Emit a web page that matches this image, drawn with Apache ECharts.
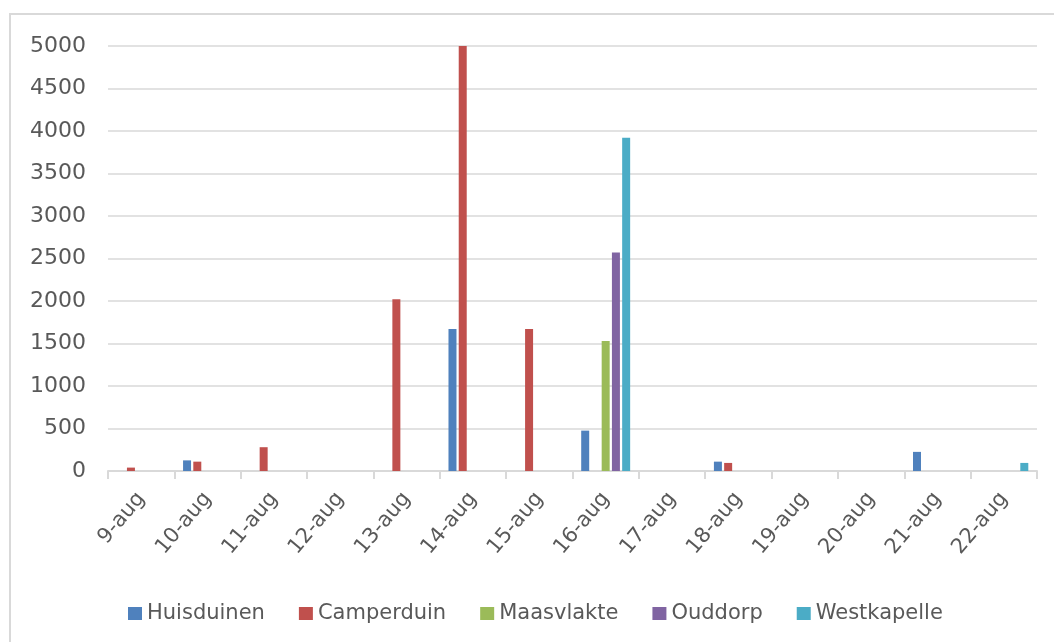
<!DOCTYPE html>
<html>
<head>
<meta charset="utf-8">
<title>Aantallen per dag</title>
<script src="https://cdn.jsdelivr.net/npm/echarts@6/dist/echarts.min.js"></script>
<style>
  html, body { margin: 0; padding: 0; background: #fff; }
  #chart { width: 1054px; height: 642px; }
</style>
</head>
<body>
<div id="chart"></div>
<script>
// categorieen (dagen)
const days = ['9-aug', '10-aug', '11-aug', '12-aug', '13-aug', '14-aug', '15-aug',
  '16-aug', '17-aug', '18-aug', '19-aug', '20-aug', '21-aug', '22-aug']

// waarden per locatie
const huisduinen  = [null, 125, null, null, null, 1670, null, 475, null, 110, null, null, 225, null]
const camperduin  = [40, 110, 280, null, 2020, 5000, 1670, null, null, 95, null, null, null, null]
const maasvlakte  = [null, null, null, null, null, null, null, 1530, null, null, null, null, null, null]
const ouddorp     = [null, null, null, null, null, null, null, 2570, null, null, null, null, null, null]
const westkapelle = [null, null, null, null, null, null, null, 3920, null, null, null, null, null, 95]

const seriesNames = ['Huisduinen', 'Camperduin', 'Maasvlakte', 'Ouddorp', 'Westkapelle']
const seriesData = [huisduinen, camperduin, maasvlakte, ouddorp, westkapelle]
const colors = ['#4f81bd', '#c0504d', '#9bbb59', '#8064a2', '#4bacc6']

const chart = echarts.init(document.getElementById('chart'))
const font = 'DejaVu Sans'

chart.setOption({
  animation: false,
  color: colors,
  textStyle: { fontFamily: font },
  graphic: [{
    type: 'rect',
    shape: { x: 10, y: 14, width: 1100, height: 700 },
    style: { fill: null, stroke: '#d9d9d9', lineWidth: 2 },
    silent: true
  }],
  grid: { left: 108, right: 17, top: 46, bottom: 171 },
  legend: {
    left: 123,
    top: 598,
    icon: 'rect',
    itemWidth: 14,
    itemHeight: 13,
    itemGap: 34,
    textStyle: { color: '#595959', fontSize: 21, fontFamily: font },
    data: seriesNames
  },
  xAxis: {
    type: 'category',
    data: days,
    axisLine: { lineStyle: { color: '#d9d9d9', width: 2 } },
    axisTick: { show: true, length: 8, lineStyle: { color: '#d9d9d9', width: 2 } },
    axisLabel: {
      rotate: 50,
      margin: 24,
      color: '#595959',
      fontSize: 21,
      fontFamily: font
    }
  },
  yAxis: {
    type: 'value',
    min: 0,
    max: 5000,
    interval: 500,
    axisLine: { show: false },
    axisTick: { show: false },
    splitLine: { lineStyle: { color: '#d9d9d9', width: 1.5 } },
    axisLabel: {
      color: '#595959',
      fontSize: 22,
      margin: 22,
      fontFamily: font,
      formatter: v => String(v)
    }
  },
  series: seriesNames.map((name, i) => ({
    name: name,
    type: 'bar',
    data: seriesData[i],
    barWidth: 8,
    barGap: '28%'
  }))
})
</script>
</body>
</html>
